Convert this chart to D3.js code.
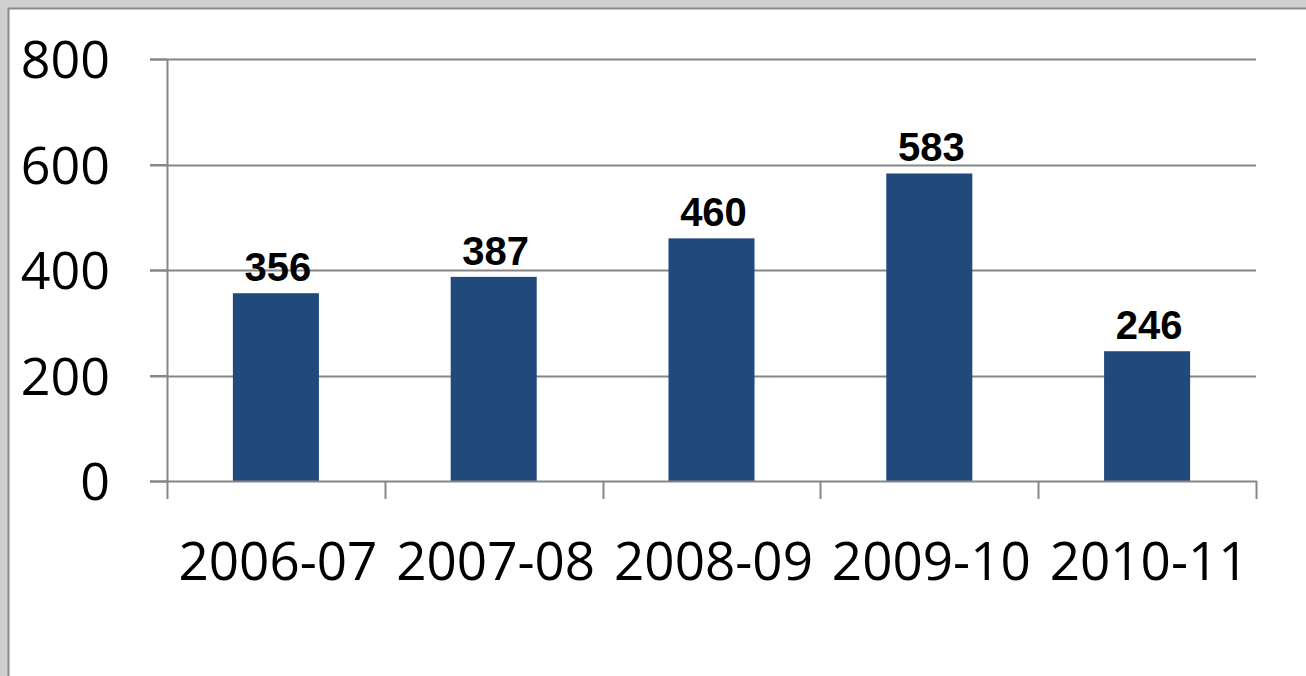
<!DOCTYPE html>
<html><head><meta charset="utf-8">
<script src="https://cdn.jsdelivr.net/npm/d3@7"></script>
<style>html,body{margin:0;padding:0;background:#fff;overflow:hidden}</style>
</head><body>
<svg id="c" width="1306" height="676"></svg>
<script>
const categories = ["2006-07","2007-08","2008-09","2009-10","2010-11"];
const values = [356, 387, 460, 583, 246];
const yTicks = [0, 200, 400, 600, 800];

const svg = d3.select("#c");
const W = 1306, H = 676;
// frame
svg.append("rect").attr("x",0).attr("y",0).attr("width",W).attr("height",H).attr("fill","#cfcfcf");
svg.append("rect").attr("x",9).attr("y",9).attr("width",W).attr("height",H).attr("fill","#fff");
svg.append("line").attr("x1",8).attr("x2",W).attr("y1",8.5).attr("y2",8.5).attr("stroke","#8a8a8a").attr("stroke-width",2);
svg.append("line").attr("x1",8.5).attr("x2",8.5).attr("y1",8).attr("y2",H).attr("stroke","#8a8a8a").attr("stroke-width",2);

const pLeft = 167, pRight = 1256, pTop = 59, pBottom = 481;
const x = d3.scaleBand().domain(categories).range([pLeft, pRight]).paddingInner(0.605).paddingOuter(0.3025);
const xb = d3.scaleBand().domain(categories).range([pLeft, pRight]);
const y = d3.scaleLinear().domain([0, 800]).range([pBottom, pTop]);

const grid = "#868686";
// gridlines
svg.append("g").selectAll("line").data(yTicks.filter(d=>d>0)).join("line")
  .attr("x1", 150).attr("x2", pRight).attr("y1", d=>Math.round(y(d))+0.5).attr("y2", d=>Math.round(y(d))+0.5)
  .attr("stroke", grid).attr("stroke-width", 2);

// bars
svg.append("g").selectAll("rect").data(values).join("rect")
  .attr("x", (d,i)=>x(categories[i])).attr("width", x.bandwidth())
  .attr("y", d=>y(d)).attr("height", d=>pBottom - y(d))
  .attr("fill", "#214a7c");

// y axis
const ya = svg.append("g").attr("transform", `translate(${pLeft},0)`)
  .call(d3.axisLeft(y).tickValues(yTicks).tickSize(17).tickPadding(40).tickFormat(d3.format("d")));
ya.select(".domain").attr("stroke", grid).attr("stroke-width", 2).attr("d", `M0.5,${pTop}V${pBottom}`);
ya.selectAll(".tick line").attr("stroke", grid).attr("stroke-width", 2);
ya.selectAll("text").attr("font-family", "'Open Sans', sans-serif").attr("font-size", 52).attr("fill", "#000").attr("dy","0.36em");

// x axis
const xa = svg.append("g").attr("transform", `translate(0,${pBottom})`)
  .call(d3.axisBottom(xb).tickSize(0).tickPadding(0));
xa.select(".domain").remove();
xa.selectAll("text").attr("font-family", "'Open Sans', sans-serif").attr("font-size", 53).attr("fill", "#000")
  .attr("y", 99).attr("dy", 0).attr("dx", 2);
const tickXs = categories.map(c=>xb(c)).concat([pRight]);
svg.append("g").selectAll("line").data(tickXs).join("line")
  .attr("x1", d=>Math.round(d)+0.5).attr("x2", d=>Math.round(d)+0.5).attr("y1", pBottom).attr("y2", pBottom+18)
  .attr("stroke", grid).attr("stroke-width", 2);
svg.append("line").attr("x1",150).attr("x2",pRight+1).attr("y1",pBottom+0.5).attr("y2",pBottom+0.5).attr("stroke",grid).attr("stroke-width",2);

// data labels
svg.append("g").selectAll("text").data(values).join("text")
  .attr("x", (d,i)=>x(categories[i]) + x.bandwidth()/2 + 2)
  .attr("y", d=>y(d) - 12)
  .attr("text-anchor","middle")
  .attr("font-family","'Liberation Sans', Arial, sans-serif").attr("font-weight","bold").attr("font-size",40)
  .attr("fill","#000").text(d=>d);
</script>
</body></html>
